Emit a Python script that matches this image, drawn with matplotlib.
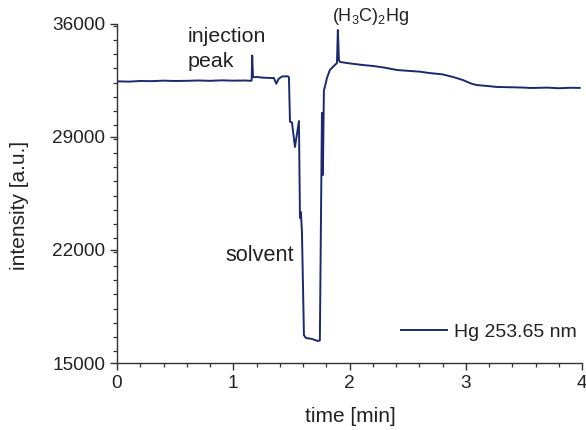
import matplotlib
matplotlib.use("Agg")
import matplotlib.pyplot as plt
from matplotlib.ticker import MultipleLocator

plt.rcParams['font.family'] = ['Liberation Sans', 'DejaVu Sans']
plt.rcParams['mathtext.fontset'] = 'custom'
plt.rcParams['mathtext.rm'] = 'Liberation Sans'
plt.rcParams['mathtext.it'] = 'Liberation Sans'

time_min = [0.0, 0.1, 0.2, 0.3, 0.4, 0.5, 0.6, 0.7, 0.8, 0.9, 1.0, 1.1, 1.15,
            1.158, 1.163, 1.17, 1.2, 1.25, 1.3, 1.35, 1.37, 1.39, 1.42, 1.47, 1.479,
            1.488, 1.505, 1.531, 1.565, 1.574, 1.582, 1.591, 1.608, 1.625, 1.677, 1.728,
            1.745, 1.763, 1.771, 1.780, 1.788, 1.806, 1.831, 1.874, 1.892, 1.900, 1.909, 1.917,
            2.0, 2.115, 2.2, 2.3, 2.408, 2.5, 2.6, 2.691, 2.8, 2.9, 2.975, 3.05, 3.095,
            3.2, 3.267, 3.4, 3.5, 3.551, 3.6, 3.7, 3.8, 3.9, 3.98]
intensity = [32450, 32430, 32470, 32460, 32490, 32470, 32480, 32500, 32480, 32510, 32490, 32500, 32480,
             32500, 34050, 32700, 32720, 32680, 32660, 32650, 32300, 32600, 32750, 32760, 32700,
             29950, 29900, 28380, 29990, 23980, 24350, 23110, 16730, 16550, 16490, 16360,
             16400, 30490, 26650, 31910, 32100, 32650, 33150, 33460, 33580, 35630, 33770, 33650,
             33560, 33460, 33400, 33300, 33150, 33100, 33050, 32960, 32880, 32700, 32530, 32300, 32220,
             32150, 32100, 32080, 32060, 32040, 32040, 32060, 32020, 32050, 32040]

series_label = 'Hg 253.65 nm'
x_ticks = [0, 1, 2, 3, 4]
y_ticks = [15000, 22000, 29000, 36000]

W, H = 586, 430
fig = plt.figure(figsize=(W / 100, H / 100), dpi=100)
L, R, T, B = 117, 582, 24, 363
ax = fig.add_axes([L / W, 1 - B / H, (R - L) / W, (B - T) / H])
ax.plot(time_min, intensity, color='#1b2a6e', lw=1.4, label=series_label)

ax.set_xlim(0, 4)
ax.set_ylim(15000, 36000)
ax.set_xticks(x_ticks)
ax.set_yticks(y_ticks)
ax.xaxis.set_minor_locator(MultipleLocator(0.2))
ax.yaxis.set_minor_locator(MultipleLocator(875))
for s in ['top', 'right']:
    ax.spines[s].set_visible(False)
for s in ['left', 'bottom']:
    ax.spines[s].set_color('#333333')
    ax.spines[s].set_linewidth(1.0)
tc = '#222222'
ax.tick_params(which='major', length=5, width=1.0, color='#333333', labelsize=13.7, labelcolor=tc)
ax.tick_params(which='minor', length=3, width=0.9, color='#333333')

fig.text(20 / W, 1 - 205 / H, 'intensity [a.u.]', fontsize=15, color=tc,
         rotation=90, ha='center', va='center')
fig.text(350 / W, 1 - 416 / H, 'time [min]', fontsize=15, color=tc,
         ha='center', va='center')

ax.text(0.61, 34885, 'injection', fontsize=15.4, color=tc, va='baseline', ha='left')
ax.text(0.61, 33336, 'peak', fontsize=15.4, color=tc, va='baseline', ha='left')
ax.text(0.929, 21318, 'solvent', fontsize=15.6, color=tc, va='baseline', ha='left')
ax.text(1.849, 36186, r'(H$_3$C)$_2$Hg', fontsize=13, color=tc, va='baseline', ha='left', clip_on=False)

ax.legend(loc='center right', bbox_to_anchor=((577 - L) / (R - L), (B - 332) / (B - T)),
          frameon=False, fontsize=14, borderpad=0, borderaxespad=0,
          handlelength=2.37, handletextpad=0.36, labelcolor=tc)

fig.savefig('out.png', dpi=100)
